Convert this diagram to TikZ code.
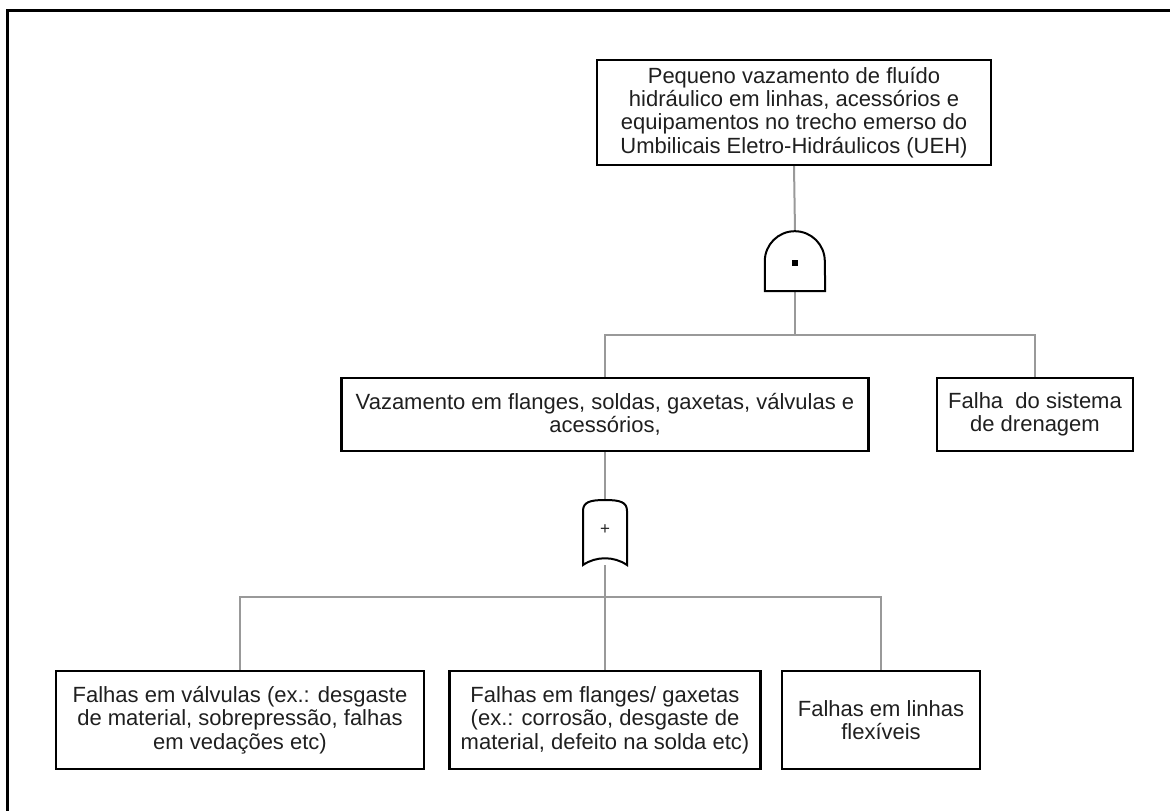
\documentclass[tikz,border=0pt]{standalone}
\usepackage{fontspec}
\setmainfont{Liberation Sans}
\begin{document}
\begin{tikzpicture}[x=1pt,y=-1pt,
  event/.style={draw=black,line width=2.2pt,rectangle,align=center,inner sep=0pt,
    font=\fontsize{22}{23.3}\selectfont,text=black!88},
  conn/.style={draw=black!40,line width=2pt},
  gate/.style={draw=black,line width=2pt,fill=white}]
\useasboundingbox (0,0) rectangle (1170,811);
% outer frame (cut at right and bottom)
\draw[line width=3pt] (7,811) -- (7,10) -- (1170,10);

% events
\node[event,minimum width=394pt,minimum height=105pt] (top) at (794,112.5)
  {Pequeno vazamento de fluído\\hidráulico em linhas, acessórios e\\equipamentos no trecho emerso do\\Umbilicais Eletro-Hidráulicos (UEH)};
\node[event,minimum width=527pt,minimum height=73pt] (mid) at (605,414.5)
  {Vazamento em flanges, soldas, gaxetas, válvulas e\\acessórios,};
\node[event,minimum width=196pt,minimum height=73pt] (falha) at (1035,414.5)
  {Falha\ \ do sistema\\de drenagem};
\node[event,minimum width=368pt,minimum height=98pt] (bl) at (240,720)
  {Falhas em válvulas (ex.: desgaste\\de material, sobrepressão, falhas\\em vedações etc)};
\node[event,minimum width=311pt,minimum height=98pt] (bm) at (605,720)
  {Falhas em flanges/ gaxetas\\(ex.: corrosão, desgaste de\\material, defeito na solda etc)};
\node[event,minimum width=198pt,minimum height=98pt] (br) at (881,720)
  {Falhas em linhas\\flexíveis};

% gate anchors
\node[minimum width=60pt,minimum height=60pt,inner sep=0pt] (andg) at (795,261) {};
\node[minimum width=44pt,minimum height=65pt,inner sep=0pt] (org) at (605,532.5) {};

% connectors
\draw[conn] (top.south) -- (andg.north);
\draw[conn] (andg.south) -- ++(0,44) coordinate (j1);
\draw[conn] (mid.north) |- (j1) -| (falha.north);
\draw[conn] (mid.south) -- (org.north);
\draw[conn] (org.south) -- ++(0,32) coordinate (j2);
\draw[conn] (bl.north) |- (j2) -| (br.north);
\draw[conn] (j2) -- (bm.north);

% AND gate
\draw[gate] (andg.south west) -- ++(0,-30) arc (180:360:30) -- (andg.south east) -- cycle;
\fill (andg.center) ++(-2.6,-0.6) rectangle ++(5.2,5.2);

% OR gate
\draw[gate] (583,565) -- (583,511)
  .. controls (583,502) and (590,500) .. (605,500)
  .. controls (620,500) and (627,502) .. (627,511)
  -- (627,565)
  .. controls (614,556) and (596,556) .. cycle;
\node[font=\fontsize{17}{19}\selectfont,text=black!85] at (605,530) {+};
\end{tikzpicture}
\end{document}
